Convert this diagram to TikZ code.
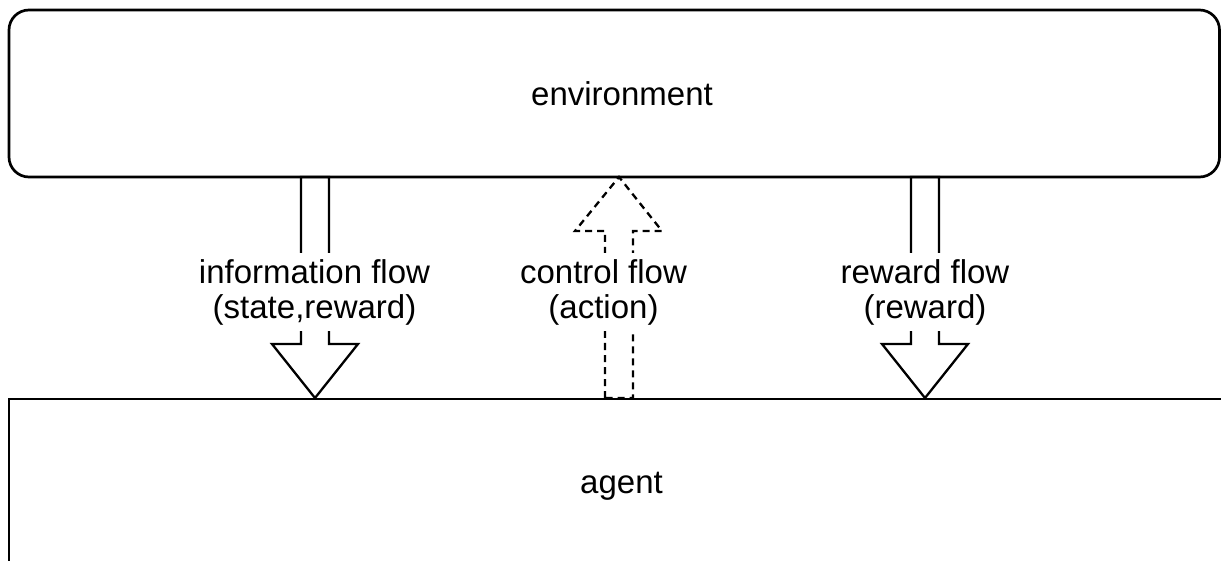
\documentclass[tikz,border=0pt]{standalone}
\usepackage{fontspec}
\setmainfont{Liberation Sans}
\begin{document}
\begin{tikzpicture}[x=1pt,y=-1pt,
  box/.style={draw, line width=2.7pt},
  txt/.style={font=\fontsize{33}{35}\selectfont, inner sep=0pt},
  lbl/.style={fill=white, font=\fontsize{33}{35}\selectfont, align=center, inner xsep=3pt, inner ysep=6pt},
  flowarrow/.style={draw, line width=2.3pt, line join=miter},
  dashedarrow/.style={flowarrow, dash pattern=on 7pt off 5pt}]
\useasboundingbox (0,0) rectangle (1221,561);
\clip (0,0) rectangle (1221,561);
% boxes
\draw[box, rounded corners=20pt] (9,10) rectangle (1219.5,177);
\draw[box] (9,399) rectangle (1260,620);
\node[txt, anchor=base] (env) at (622,106) {environment};
\node[txt, anchor=base] (agent) at (621.5,493) {agent};
% information flow (down)
\draw[flowarrow] (301,177) -- (301,344) -- (272,344) -- (315,398) -- (358,344) -- (329,344) -- (329,177) -- cycle;
% control flow (up, dashed)
\draw[dashedarrow] (605,398) -- (605,231) -- (575,231) -- (619,177) -- (662,231) -- (633,231) -- (633,398) -- cycle;
% reward flow (down)
\draw[flowarrow] (911,177) -- (911,344) -- (882,344) -- (925,398) -- (968,344) -- (939,344) -- (939,177) -- cycle;
% labels
\node[lbl] (info) at (314.5,292) {information flow\\(state,reward)};
\node[lbl] (ctrl) at (603.5,292) {control flow\\(action)};
\node[lbl] (rew) at (925,292) {reward flow\\(reward)};
\end{tikzpicture}
\end{document}
